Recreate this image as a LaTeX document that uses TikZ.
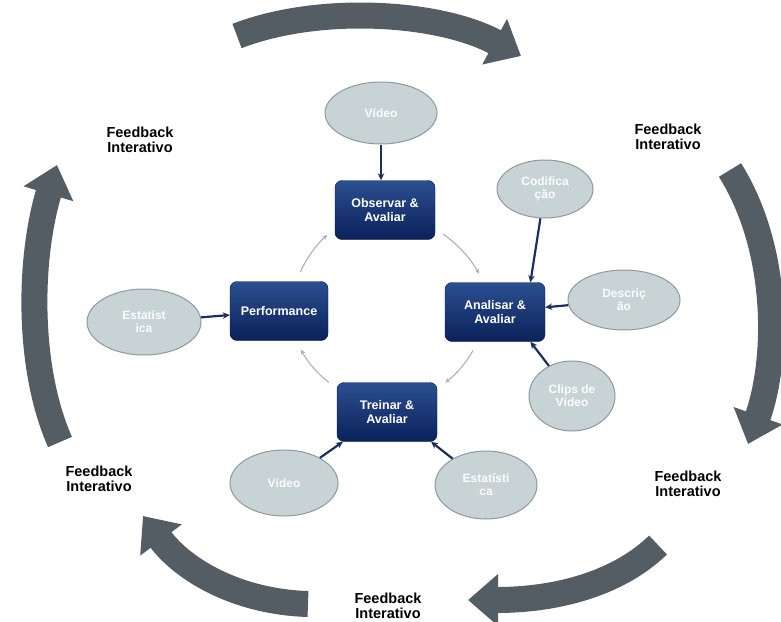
\documentclass[tikz,border=0pt]{standalone}
\usepackage{fontspec}
\setmainfont{Liberation Sans}
\usetikzlibrary{shapes.geometric,arrows.meta}
\definecolor{navytop}{HTML}{2B4F90}
\definecolor{navybot}{HTML}{0B215A}
\definecolor{ellfill}{HTML}{C8D3D6}
\definecolor{elldraw}{HTML}{8C999D}
\definecolor{bigarrow}{HTML}{535D63}
\definecolor{cycgray}{HTML}{A9B2B6}
\definecolor{linkcol}{HTML}{1A2F5E}
\begin{document}
\begin{tikzpicture}[x=1pt,y=-1pt,
  stage/.style={draw=navybot!80!black, rounded corners=7pt, top color=navytop, bottom color=navybot,
    minimum width=100pt, minimum height=59pt, align=center, text=white, inner sep=2pt,
    font=\fontsize{12.5}{13.5}\selectfont\bfseries},
  source/.style={ellipse, draw=elldraw, line width=1pt, fill=ellfill, align=center,
    inner sep=0pt, text=white!93!ellfill, font=\fontsize{12}{13}\selectfont\bfseries},
  link/.style={draw=linkcol, line width=2.2pt, -{Stealth[length=7pt,width=6.5pt]}},
  cyc/.style={draw=cycgray, line width=1.1pt, -{Stealth[length=5pt,width=4.5pt]},
    shorten <=10pt, shorten >=10pt, bend left=12},
  loop/.style={draw=bigarrow, line width=26pt, -{Triangle[length=30pt,width=50pt]}},
  fb/.style={align=center, font=\fontsize{14.5}{15}\selectfont\bfseries}]
\useasboundingbox (0,0) rectangle (781,621);

% central stages
\node[stage] (obs) at (385,210) {Observar \&\\Avaliar};
\node[stage] (ana) at (495,312) {Analisar \&\\Avaliar};
\node[stage] (tre) at (387,412) {Treinar \&\\Avaliar};
\node[stage, minimum width=98pt] (perf) at (279,311) {Performance};

% sources
\node[source, minimum width=112pt, minimum height=62pt] (vid1) at (381,113) {Vídeo};
\node[source, minimum width=96pt, minimum height=58pt] (cod) at (545,189) {Codifica\\ção};
\node[source, minimum width=112pt, minimum height=60pt] (desc) at (624,300) {Descriç\\ão};
\node[source, minimum width=86pt, minimum height=70pt] (clips) at (572,396) {Clips de\\Vídeo};
\node[source, minimum width=102pt, minimum height=68pt] (est2) at (486,485) {Estatísti\\ca};
\node[source, minimum width=108pt, minimum height=66pt] (vid2) at (284,483) {Vídeo};
\node[source, minimum width=114pt, minimum height=66pt] (est1) at (144,322) {Estatíst\\ica};

% links into stages
\draw[link] (vid1) -- (vid1 |- obs.north);
\draw[link] (cod) -- (ana.40);
\draw[link] (desc) -- (ana);
\draw[link] (clips) -- (ana.-40);
\draw[link] (est2) -- (tre.-34);
\draw[link] (vid2) -- (tre.-146);
\draw[link] (est1) -- (perf);

% inner cycle
\draw[cyc] (perf.60) to (obs.200);
\draw[cyc] (obs.-20) to (ana.110);
\draw[cyc] (ana.-120) to (tre.25);
\draw[cyc] (tre.155) to (perf.-60);

% outer loop
\coordinate (t1) at (237,36);
\coordinate (t2) at (521,56);
\coordinate (r1) at (730,170);
\coordinate (r2) at (748,444);
\coordinate (b1) at (658,545);
\coordinate (b2) at (468,600);
\coordinate (l1) at (308,604);
\coordinate (l2) at (143,516);
\coordinate (s1) at (60,442);
\coordinate (s2) at (57,165);
\draw[loop] (t1) .. controls (320,4) and (440,12) .. (t2);
\draw[loop] (r1) .. controls (780,250) and (778,360) .. (r2);
\draw[loop] (b1) .. controls (620,582) and (560,600) .. (b2);
\draw[loop] (l1) .. controls (240,602) and (185,572) .. (l2);
\draw[loop] (s1) .. controls (28,370) and (28,262) .. (s2);

% labels
\node[fb] (fb1) at (140,140) {Feedback\\Interativo};
\node[fb] (fb2) at (668,137) {Feedback\\Interativo};
\node[fb] (fb3) at (99,479) {Feedback\\Interativo};
\node[fb] (fb4) at (688,484) {Feedback\\Interativo};
\node[fb] (fb5) at (388,606) {Feedback\\Interativo};
\end{tikzpicture}
\end{document}
